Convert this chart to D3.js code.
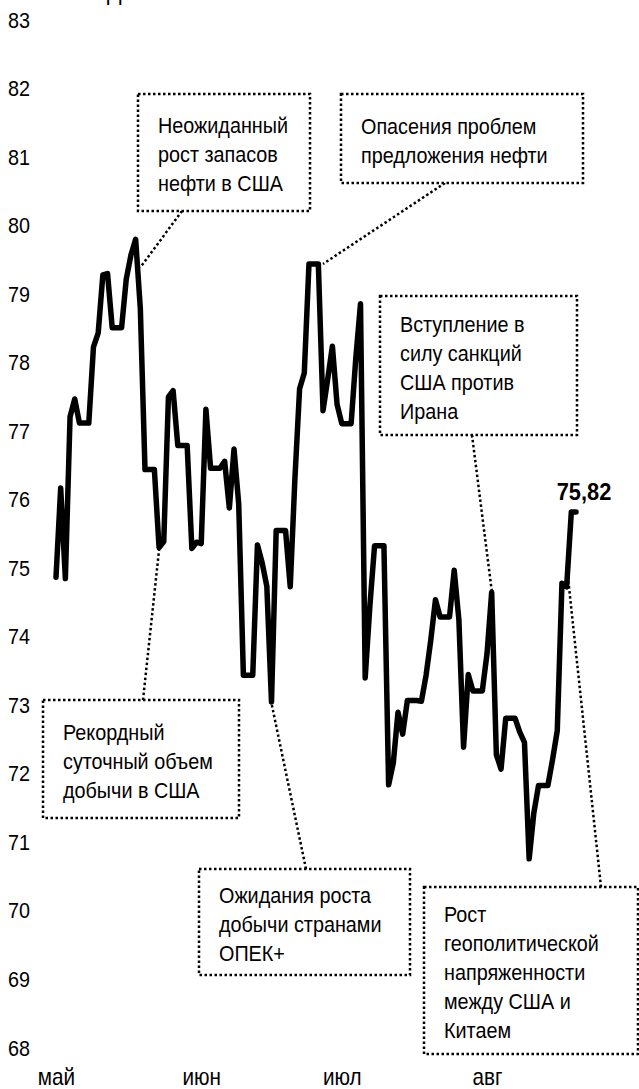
<!DOCTYPE html>
<html>
<head>
<meta charset="utf-8">
<script src="https://cdn.jsdelivr.net/npm/d3@7"></script>
<style>
  body { margin: 0; background: #fff; }
  svg text { font-family: "Liberation Sans", Arial, sans-serif; font-size: 22px; fill: #000; }
</style>
</head>
<body>
<div class="canvas"></div>
<script>
// Brent, долл./барр., calendar days (weekends carry Friday's close)
const firstDay = "2018-05-06";
const brent = [
  74.87, 76.17, 74.85, 77.21, 77.47, 77.12, 77.12, 77.12, 78.23, 78.43,
  79.28, 79.30, 78.51, 78.51, 78.51, 79.22, 79.57, 79.80, 78.79, 76.44,
  76.44, 76.44, 75.30, 75.39, 77.50, 77.59, 76.79, 76.79, 76.79, 75.29,
  75.38, 75.36, 77.32, 76.46, 76.46, 76.46, 76.56, 75.88, 76.74, 75.94,
  73.44, 73.44, 73.44, 75.34, 75.08, 74.74, 73.05, 75.55, 75.55, 75.55,
  74.73, 76.31, 77.62, 77.85, 79.44, 79.44, 79.44, 77.30, 77.76, 78.24,
  77.39, 77.11, 77.11, 77.11, 78.07, 78.86, 73.40, 74.45, 75.33, 75.33,
  75.33, 71.84, 72.16, 72.90, 72.58, 73.07, 73.07, 73.07, 73.06, 73.44,
  73.95, 74.54, 74.29, 74.29, 74.29, 74.97, 74.25, 72.39, 73.45, 73.21,
  73.21, 73.21, 73.75, 74.65, 72.28, 72.07, 72.81, 72.81, 72.81, 72.61,
  72.46, 70.76, 71.43, 71.83, 71.83, 71.83, 72.21, 72.63, 74.78, 74.73,
  75.82, 75.82
];
const yTicks = [68, 69, 70, 71, 72, 73, 74, 75, 76, 77, 78, 79, 80, 81, 82, 83];
const monthLabels = ["май", "июн", "июл", "авг"];
const lastLabel = "75,82";
const unitLabel = "Долл.";

// annotations: text and the point on the curve they refer to
const noteTexts = [
  ["Неожиданный", "рост запасов", "нефти в США"],
  ["Опасения проблем", "предложения нефти"],
  ["Вступление в", "силу санкций", "США против", "Ирана"],
  ["Рекордный", "суточный объем", "добычи в США"],
  ["Ожидания роста", "добычи странами", "ОПЕК+"],
  ["Рост", "геополитической", "напряженности", "между США и", "Китаем"]
];
const noteDates = ["2018-05-24", "2018-07-02", "2018-08-07", "2018-05-28", "2018-06-21", "2018-08-23"];
const notePrices = [79.39, 79.44, 74.68, 75.27, 73.03, 75.05];

// box layout: x, y, w, h and where the leader leaves the box
const noteBoxes = [
  {x: 138, y: 94, w: 172, h: 117, lx: 182, ly: 211},
  {x: 341, y: 94, w: 242, h: 89, lx: 445, ly: 183},
  {x: 380, y: 296, w: 197, h: 139, lx: 472, ly: 435},
  {x: 43, y: 700, w: 196, h: 118, lx: 143, ly: 700},
  {x: 199, y: 869, w: 211, h: 106, lx: 306, ly: 869},
  {x: 424, y: 887, w: 214, h: 167, lx: 601, ly: 887}
];

const W = 639, H = 1089;
const sx = 0.9; // the original face is a narrow one
const parse = d3.utcParse("%Y-%m-%d");
const t0 = parse(firstDay);
const data = brent.map((v, i) => ({date: d3.utcDay.offset(t0, i), value: v}));

const svg = d3.select('.canvas')
  .append('svg')
  .attr('width', W)
  .attr('height', H);

const x = d3.scaleUtc()
  .domain(d3.extent(data, d => d.date))
  .range([56, 576]);

const y = d3.scaleLinear()
  .domain([68, 83])
  .range([1048, 20]);

// title sits above the visible area, only its lowest strokes show
svg.append('text')
  .attr('transform', `translate(107,-0.5) scale(${sx},1)`)
  .style('font-size', '24px')
  .text(unitLabel);

// y axis labels only
const yAxis = d3.axisLeft(y).tickValues(yTicks).tickSize(0).tickPadding(0).tickFormat(d3.format('d'));
const gy = svg.append('g').attr('transform', 'translate(30,0)').call(yAxis);
gy.select('.domain').remove();
gy.selectAll('text')
  .attr('fill', '#000')
  .attr('transform', `scale(${sx},1)`)
  .style('font-size', '22px');

// month labels, one per month from the first day
const monthTicks = monthLabels.map((m, i) => d3.utcMonth.offset(t0, i));
const xAxis = d3.axisBottom(x).tickValues(monthTicks).tickSize(0).tickFormat((d, i) => monthLabels[i]);
const gx = svg.append('g').attr('transform', 'translate(0,1085)').call(xAxis);
gx.select('.domain').remove();
gx.selectAll('text')
  .attr('dy', null).attr('y', 0)
  .attr('fill', '#000')
  .attr('transform', `scale(${sx},1)`)
  .style('font-size', '23px');

// leaders and boxes
const notes = svg.append('g');
noteTexts.forEach((lines, i) => {
  const b = noteBoxes[i];
  const ax = x(parse(noteDates[i])), ay = y(notePrices[i]);
  notes.append('line')
    .attr('x1', b.lx).attr('y1', b.ly)
    .attr('x2', ax).attr('y2', ay)
    .attr('stroke', '#000').attr('stroke-width', 2.5)
    .attr('stroke-dasharray', '2.5,2.5');
  notes.append('rect')
    .attr('x', b.x).attr('y', b.y).attr('width', b.w).attr('height', b.h)
    .attr('fill', '#fff')
    .attr('stroke', '#000').attr('stroke-width', 2.5)
    .attr('stroke-dasharray', '2.5,2.5');
  const mid = b.y + b.h / 2 + 10;
  const first = mid - (lines.length - 1) * 29 / 2;
  notes.append('text')
    .attr('transform', `translate(${b.x + 20},0) scale(${sx},1)`)
    .selectAll('tspan')
    .data(lines)
    .join('tspan')
      .attr('x', 0)
      .attr('y', (d, j) => first + j * 29)
      .text(d => d);
});

// the price line
const line = d3.line().x(d => x(d.date)).y(d => y(d.value));
svg.append('path')
  .datum(data)
  .attr('fill', 'none')
  .attr('stroke', '#000')
  .attr('stroke-width', 5.5)
  .attr('stroke-linejoin', 'round')
  .attr('stroke-linecap', 'round')
  .attr('d', line);

// last value
const last = data[data.length - 1];
svg.append('text')
  .attr('transform', `translate(${x(last.date) + 8},${y(last.value) - 12}) scale(0.95,1)`)
  .attr('text-anchor', 'middle')
  .style('font-weight', 'bold')
  .style('font-size', '23px')
  .text(lastLabel);
</script>
</body>
</html>
